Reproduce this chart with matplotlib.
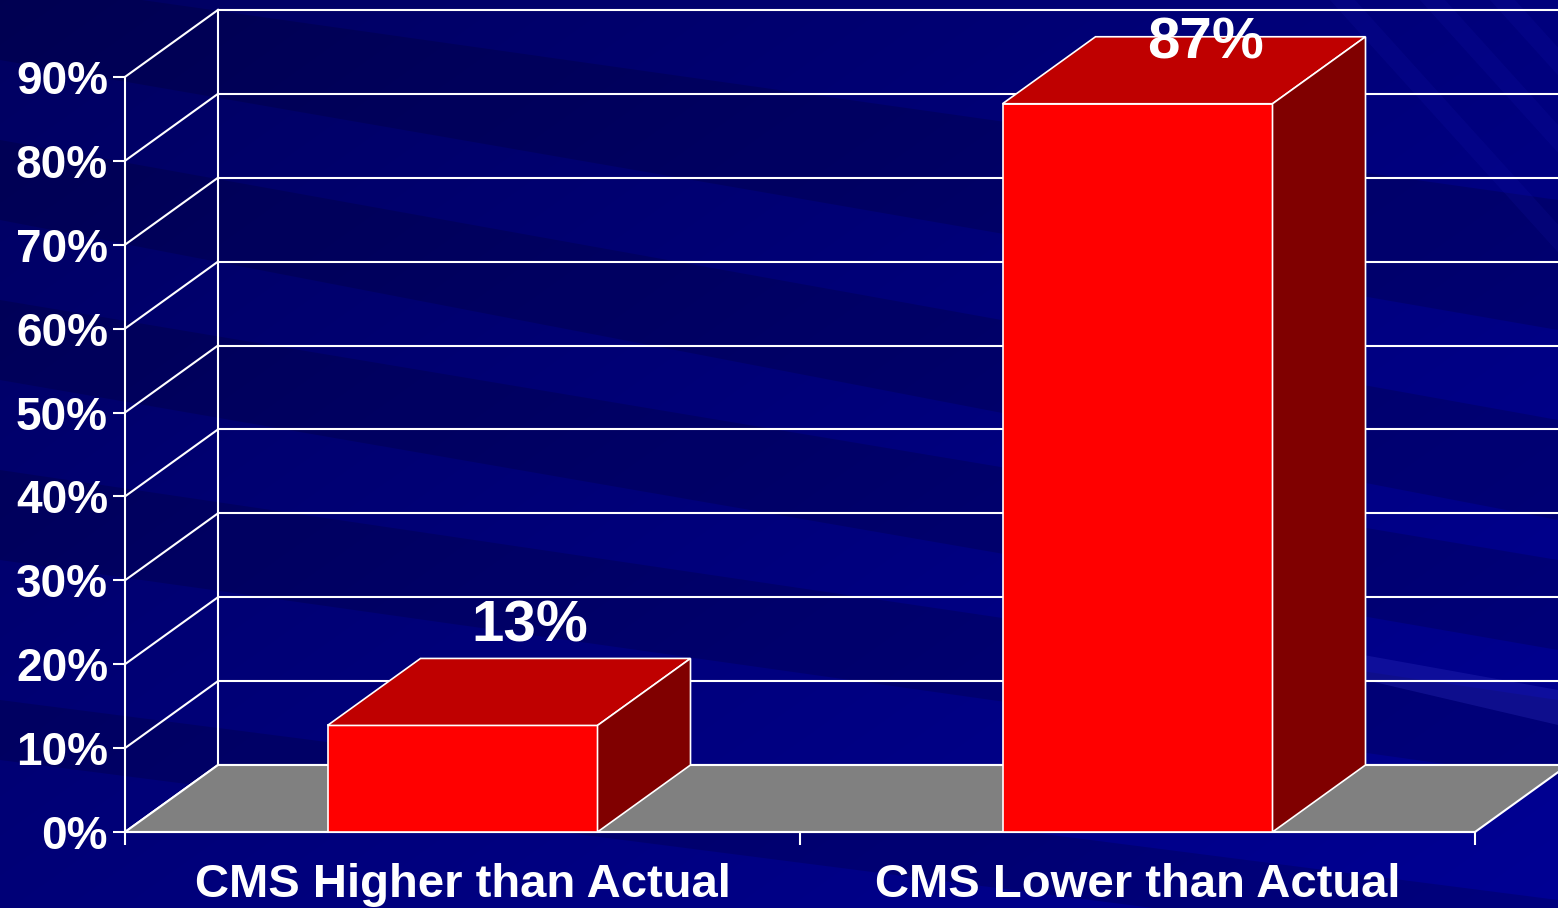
import numpy as np
import matplotlib
matplotlib.use('Agg')
import matplotlib.pyplot as plt
from matplotlib.patches import Polygon

# Daten
categories = ['CMS Higher than Actual', 'CMS Lower than Actual']
values = [12.7, 86.8]
y_ticks = [0, 10, 20, 30, 40, 50, 60, 70, 80, 90]
y_tick_labels = [f'{t}%' for t in y_ticks]

plt.rcParams['font.family'] = ['Liberation Sans', 'DejaVu Sans']
plt.rcParams['font.weight'] = 'bold'

W, H = 1558, 908
fig = plt.figure(figsize=(W / 100, H / 100), dpi=100)

# Hintergrund: dunkelblauer Verlauf mit diagonalen Streifen
bg = fig.add_axes([0, 0, 1, 1])
bg.set_axis_off()
yy, xx = np.mgrid[0:H:2, 0:W:2]
t = np.clip(0.55 * xx / W + 0.45 * yy / H, 0, 1)
dark = np.array([0.0, 0.0, 0.38])
light = np.array([0.0, 0.0, 0.58])
img = dark + (light - dark) * t[..., None]
bg.imshow(img, extent=[0, W, H, 0], aspect='auto', interpolation='bilinear')
bands = [
    (-20, 60, 200, 330),
    (140, 220, 420, 520),
    (300, 380, 560, 650),
    (470, 560, 700, 780),
    (700, 760, 900, 960),
]
for ya, yb, yc, yd in bands:
    bg.add_patch(Polygon([(0, ya), (W, yc), (W, yd), (0, yb)],
                         facecolor='black', alpha=0.15, lw=0))
bg.add_patch(Polygon([(1280, 640), (W, 690), (W, 725), (1280, 660)],
                     facecolor='#3030c0', alpha=0.3, lw=0))
for x0 in (1330, 1420, 1490):
    bg.add_patch(Polygon([(x0, 0), (x0 + 25, 0), (x0 + 260, 260), (x0 + 235, 260)],
                         facecolor='#2020c0', alpha=0.12, lw=0))
bg.set_xlim(0, W)
bg.set_ylim(H, 0)

# Diagramm-Achsen (Kategorie-Einheiten x, Prozent y)
ax = fig.add_axes([0, 0, 1, 1])
ax.patch.set_alpha(0)
U = 675.0
px_x0, px_y0, ppp = 125.0, 832.0, 8.39
ax.set_xlim(-px_x0 / U, (W - px_x0) / U)
ax.set_ylim(-(H - px_y0) / ppp, px_y0 / ppp)

dx = 93 / U
dy = 67 / ppp
n = len(categories)
bar_w = 0.4
lw = 1.5

# Rückwand und Seitenwand
for tv in y_ticks:
    ax.plot([dx, n + dx + 0.5], [tv + dy, tv + dy], color='white', lw=lw, zorder=1)
    ax.plot([0, dx], [tv, tv + dy], color='white', lw=lw, zorder=1)
ax.plot([dx, dx], [dy, y_ticks[-1] + dy], color='white', lw=lw, zorder=1)

# Boden
ax.add_patch(Polygon([(0, 0), (n, 0), (n + dx, dy), (dx, dy)],
                     facecolor='#808080', edgecolor='white', lw=lw, zorder=2))

# Balken
for i, v in enumerate(values):
    c = i + 0.5
    x1, x2 = c - bar_w / 2, c + bar_w / 2
    ax.add_patch(Polygon([(x1, 0), (x2, 0), (x2, v), (x1, v)],
                         facecolor='#ff0000', edgecolor='white', lw=1.2, zorder=4))
    ax.add_patch(Polygon([(x1, v), (x2, v), (x2 + dx, v + dy), (x1 + dx, v + dy)],
                         facecolor='#bf0000', edgecolor='white', lw=1.2, zorder=4))
    ax.add_patch(Polygon([(x2, 0), (x2 + dx, dy), (x2 + dx, v + dy), (x2, v)],
                         facecolor='#800000', edgecolor='white', lw=1.2, zorder=4))
    ax.text(c + 0.1, min(v + dy + 2, 92.25), f'{v:.0f}%', ha='center', va='baseline',
            fontsize=42, color='white', fontweight='bold', zorder=6)

# Achsen
for s in ('top', 'right'):
    ax.spines[s].set_visible(False)
ax.spines['left'].set_position(('data', 0))
ax.spines['left'].set_bounds(0, y_ticks[-1])
ax.spines['bottom'].set_position(('data', 0))
ax.spines['bottom'].set_bounds(0, n)
for s in ('left', 'bottom'):
    ax.spines[s].set_color('white')
    ax.spines[s].set_linewidth(lw)

ax.set_yticks(y_ticks, y_tick_labels)
ax.tick_params(axis='y', colors='white', length=8.6, width=lw, pad=3.6, labelsize=33)
ax.set_xticks(range(n + 1), [''] * (n + 1))
ax.tick_params(axis='x', which='major', color='white', length=9.4, width=lw)
ax.set_xticks([i + 0.5 for i in range(n)], categories, minor=True)
ax.tick_params(axis='x', which='minor', length=0, pad=22, labelsize=34, labelcolor='white')

fig.savefig('out.png', dpi=100)
